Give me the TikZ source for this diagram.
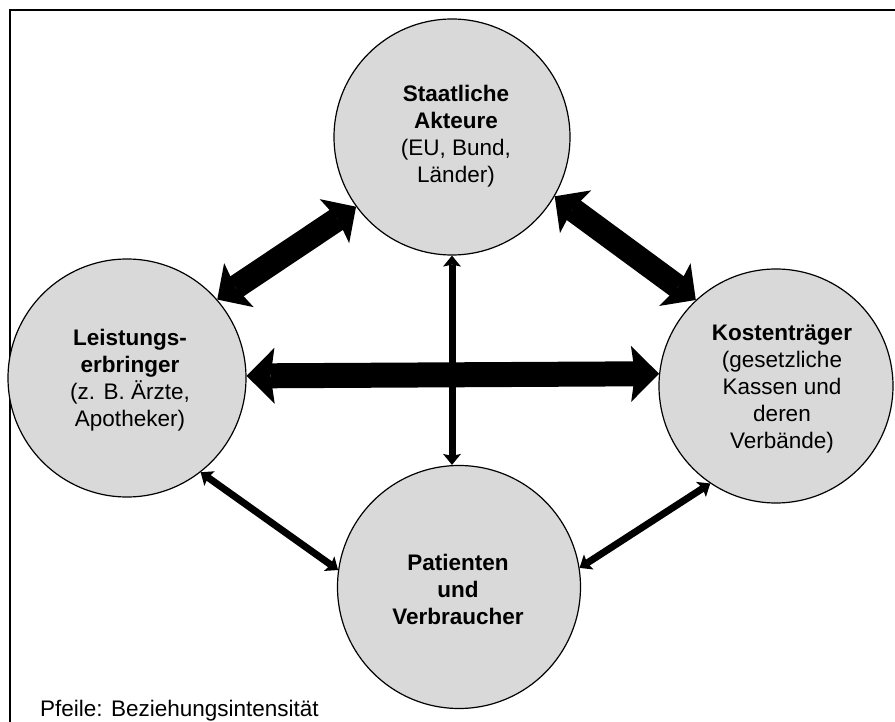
\documentclass[tikz,border=0pt]{standalone}
\usepackage{fontspec}
\setmainfont{Liberation Sans}
\usetikzlibrary{arrows.meta}
\definecolor{circlegray}{HTML}{D9D9D9}
\tikzset{
  actor/.style={circle, draw=black, line width=1.2pt, fill=circlegray, inner sep=0pt},
  lbl/.style={align=center, inner sep=0pt, font=\fontsize{22.5}{27}\selectfont},
  bigdiag/.style={line width=24pt, {Stealth[length=26pt, width=53pt, inset=4pt, line width=0pt]}-{Stealth[length=26pt, width=53pt, inset=4pt, line width=0pt]}},
  bighor/.style={line width=25pt, {Stealth[length=28pt, width=56pt, inset=4pt, line width=0pt]}-{Stealth[length=28pt, width=56pt, inset=4pt, line width=0pt]}},
  thin/.style={line width=7pt, {Stealth[length=11pt, width=18pt, inset=2pt, line width=0pt]}-{Stealth[length=11pt, width=18pt, inset=2pt, line width=0pt]}},
}
\begin{document}
\begin{tikzpicture}[x=1pt, y=-1pt]
\useasboundingbox (0,0) rectangle (895,722);
% frame
\draw[line width=2.5pt] (10,722) -- (10,10) -- (895,10);
% circles
\node[actor, minimum size=236pt] (T) at (452,137) {};
\node[actor, minimum size=238pt] (L) at (127,378) {};
\node[actor, minimum size=234pt] (R) at (776,386) {};
\node[actor, minimum size=243pt] (B) at (459,587) {};
% texts
\node[lbl] (Tt) at (456,136) {\textbf{Staatliche}\\\textbf{Akteure}\\(EU, Bund,\\Länder)};
\node[lbl] (Lt) at (130,380) {\textbf{Leistungs-}\\\textbf{erbringer}\\(z. B. Ärzte,\\Apotheker)};
\node[lbl] (Rt) at (782,389) {\textbf{Kostenträger}\\(gesetzliche\\Kassen und\\deren\\Verbände)};
\node[lbl, font=\fontsize{22.5}{27}\selectfont\bfseries] (Bt) at (458,589) {Patienten\\und\\Verbraucher};
\node[anchor=base west, inner sep=0pt, font=\fontsize{22.5}{27}\selectfont] (note) at (40,716) {Pfeile: Beziehungsintensität};
% arrows
\draw[bigdiag] (L.41) -- (T.216);
\draw[bigdiag] (T.330) -- (R.133);
\draw[bighor] (L.1.5) -- (R.174.6);
\draw[thin] (T.south) -- (T.south |- B.north);
\draw[thin] (L.308) -- (B.172);
\draw[thin] (B.9) -- (R.236);
\end{tikzpicture}
\end{document}
